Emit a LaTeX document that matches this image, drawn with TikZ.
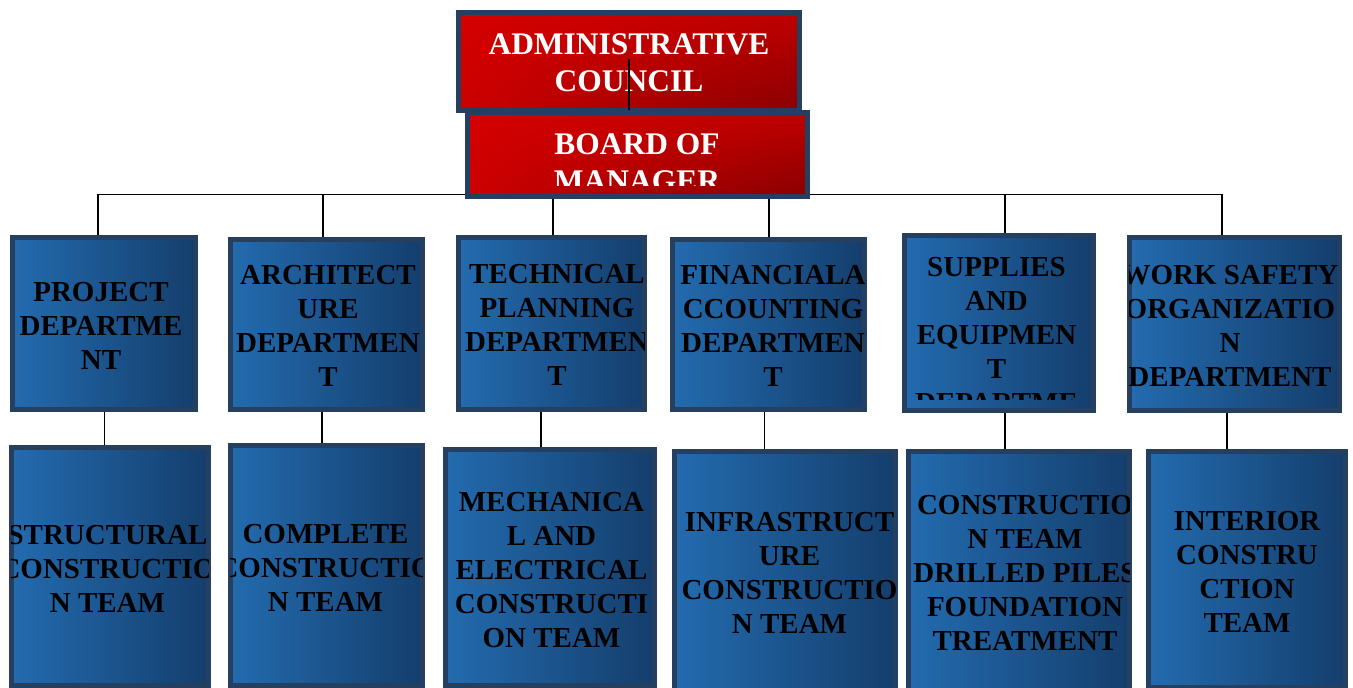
\documentclass[tikz,border=0pt]{standalone}
\usepackage{fontspec}
\setmainfont{Liberation Serif}
\usetikzlibrary{
    fit,
    calc,
    positioning,
    backgrounds,
    shadings,
}

\definecolor{navy}{HTML}{243F60}
\definecolor{redlight}{HTML}{D60000}
\definecolor{redmid}{HTML}{BE0000}
\definecolor{reddark}{HTML}{890000}
\definecolor{bluelight}{HTML}{236BAF}
\definecolor{bluedark}{HTML}{143E6C}

\begin{document}
\begin{tikzpicture}[
    x=0.75pt, y=-0.75pt,
    orgbox/.style={draw=navy, line width=3.6pt, inner sep=0pt, rectangle},
    redbox/.style={orgbox, upper left=redlight, lower left=redlight!95!black, upper right=redmid, lower right=reddark},
    bluebox/.style={orgbox, left color=bluelight, right color=bluedark},
    redtxt/.style={text=white, font=\bfseries\fontsize{23.6pt}{27.75pt}\selectfont, align=center, inner sep=0pt, anchor=north},
    bluetxt/.style={text=black, font=\bfseries\fontsize{21.75pt}{25.5pt}\selectfont, align=center, inner sep=0pt, anchor=north},
    link/.style={line width=1.3pt, black},
    ]

\clip (0,0) rectangle (1353,687);

% board of manager
\node[redbox, fit={(467.4,112.4) (807.6,196.6)}] (board) {};
\begin{scope}
    \clip ([xshift=1.8pt, yshift=10pt]board.south west) rectangle ([xshift=-1.8pt, yshift=-10pt]board.north east);
    \node[redtxt] (board-txt) at (637,133) {BOARD OF\\MANAGER};
\end{scope}

% departments
\foreach \n/\a/\b/\p/\t in {
    projdept/{12.4,237.4}/{195.6,409.6}/{101,282}/{PROJECT\\DEPARTME\\NT},
    archdept/{230.4,239.4}/{422.6,409.6}/{328,265}/{ARCHITECT\\URE\\DEPARTMEN\\T},
    techdept/{458.4,237.4}/{644.6,409.6}/{557,264}/{TECHNICAL\\PLANNING\\DEPARTMEN\\T},
    findept/{672.4,239.4}/{864.6,409.6}/{773,265}/{FINANCIALA\\CCOUNTING\\DEPARTMEN\\T},
    supdept/{904.4,235.4}/{1093.6,410.6}/{996.5,257}/{SUPPLIES\\AND\\EQUIPMEN\\T\\DEPARTME},
    safetydept/{1129.4,237.4}/{1339.6,410.6}/{1230,265}/{WORK SAFETY\\ORGANIZATIO\\N\\DEPARTMENT}}{
    \node[bluebox, fit={(\a) (\b)}] (\n) {};
    \begin{scope}
        \clip ([xshift=1.8pt, yshift=10pt]\n.south west) rectangle ([xshift=-1.8pt, yshift=-10pt]\n.north east);
        \node[bluetxt] (\n-txt) at (\p) {\t};
    \end{scope}
}

% teams
\foreach \n/\a/\b/\p/\t in {
    structteam/{11.4,447.4}/{208.6,685.5}/{107.5,525}/{STRUCTURAL\\CONSTRUCTIO\\N TEAM},
    completeteam/{230.4,445.4}/{422.6,685.5}/{325.5,524}/{COMPLETE\\CONSTRUCTIO\\N TEAM},
    mechteam/{445.4,449.4}/{654.6,685.5}/{551.5,492}/{MECHANICA\\L AND\\ELECTRICAL\\CONSTRUCTI\\ON TEAM},
    infrateam/{674.4,451.4}/{895.6,697}/{789.5,512}/{INFRASTRUCT\\URE\\CONSTRUCTIO\\N TEAM},
    pilesteam/{908.4,451.4}/{1129.6,697}/{1025,495}/{CONSTRUCTIO\\N TEAM\\DRILLED PILES\\FOUNDATION\\TREATMENT},
    interiorteam/{1148.4,451.4}/{1345.6,687.5}/{1247,511}/{INTERIOR\\CONSTRU\\CTION\\TEAM}}{
    \node[bluebox, fit={(\a) (\b)}] (\n) {};
    \begin{scope}
        \clip ([xshift=1.8pt, yshift=10pt]\n.south west) rectangle ([xshift=-1.8pt, yshift=-10pt]\n.north east);
        \node[bluetxt] (\n-txt) at (\p) {\t};
    \end{scope}
}

\begin{pgfonlayer}{background}
    % administrative council
    \node[redbox, fit={(458.4,12.4) (799.6,110.6)}] (council) {};
    \begin{scope}
        \clip ([xshift=1.8pt, yshift=10pt]council.south west) rectangle ([xshift=-1.8pt, yshift=-10pt]council.north east);
        \node[redtxt] (council-txt) at (629,33) {ADMINISTRATIVE\\COUNCIL};
    \end{scope}
    \draw[link] ([yshift=2pt]council.center) -- (council.center |- board.north);

    \coordinate (bus) at (630,194.5);
    \draw[link] ($(projdept.north)+(-6,0)$) |- (bus) -| ($(safetydept.north)+(-12.5,0)$);
    \foreach \n/\dx in {archdept/-3.5, techdept/1.5, findept/0.5, supdept/6}
        \draw[link] ($(\n.north)+(\dx,0)$) -- ($(\n.north |- bus)+(\dx,0)$);

    \foreach \a/\b/\dx in {projdept/structteam/0.5, archdept/completeteam/-4.5, techdept/mechteam/-10.5,
        findept/infrateam/-4, supdept/pilesteam/6, safetydept/interiorteam/-7.5}
        \draw[link] ($(\a.south)+(\dx,0)$) -- ($(\a.south |- \b.north)+(\dx,0)$);
\end{pgfonlayer}

\end{tikzpicture}
\end{document}
